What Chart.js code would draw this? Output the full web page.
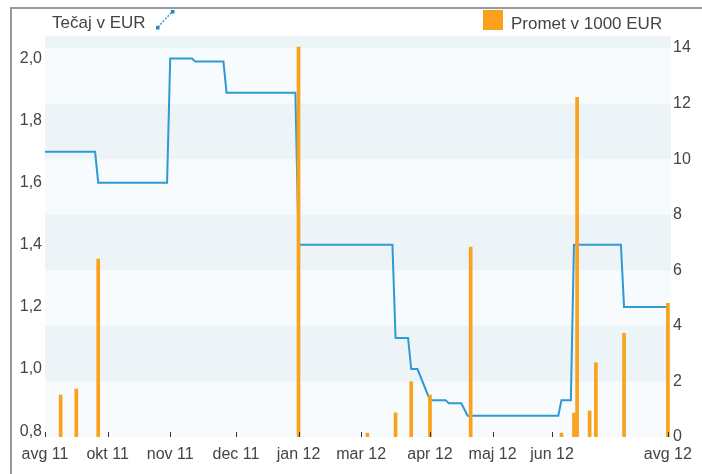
<!DOCTYPE html>
<html><head><meta charset="utf-8">
<script src="https://cdn.jsdelivr.net/npm/chart.js@4.4.1/dist/chart.umd.min.js"></script>
<style>
html,body{margin:0;padding:0;background:#fff;width:702px;height:474px;overflow:hidden;position:relative;font-family:"Liberation Sans",Arial,sans-serif;}
#frame{position:absolute;left:10px;top:7px;width:700px;height:480px;border-left:2px solid #9a9a9a;border-top:2px solid #9a9a9a;}
canvas{position:absolute;left:0;top:0;}
.lg{position:absolute;font-size:17px;line-height:17px;color:#444;white-space:nowrap;}
</style></head><body>
<div id="frame"></div>
<canvas id="c" width="702" height="474"></canvas>
<div class="lg" style="left:52px;top:14px;">Tečaj v EUR</div>
<svg style="position:absolute;left:150px;top:6px" width="30" height="28">
  <line x1="8" y1="21" x2="22" y2="6" stroke="#2e9ad3" stroke-width="1.5" stroke-dasharray="2 1.5"/>
  <rect x="6" y="20" width="3.5" height="3.5" fill="#1f86c4"/>
  <rect x="21" y="4" width="3.5" height="3.5" fill="#1f86c4"/>
</svg>
<div style="position:absolute;left:483px;top:10px;width:20px;height:20px;background:#faa21c"></div>
<div class="lg" style="left:511px;top:15px;">Promet v 1000 EUR</div>
<script>
// x positions are observation indices (avg 11 = 0)
const xTickPos    = [0, 20, 40, 61, 81, 101, 123, 143, 162, 199];
const xTickLabels = ['avg 11','okt 11','nov 11','dec 11','jan 12','mar 12','apr 12','maj 12','jun 12','avg 12'];
const leftTicks   = [0.8, 1.0, 1.2, 1.4, 1.6, 1.8, 2.0];
const rightTicks  = [0, 2, 4, 6, 8, 10, 12, 14];

// Tečaj v EUR (line)
const rateX   = [0, 16, 17, 39, 40, 47, 48, 57, 58, 80, 81, 111, 112, 116, 117, 119, 123, 128, 129, 133, 135, 164, 165, 168, 169, 184, 185, 199];
const rateVal = [1.70, 1.70, 1.60, 1.60, 2.00, 2.00, 1.99, 1.99, 1.89, 1.89, 1.40, 1.40, 1.10, 1.10, 1.00, 1.00, 0.90, 0.90, 0.89, 0.89, 0.85, 0.85, 0.90, 0.90, 1.40, 1.40, 1.20, 1.20];

// Promet v 1000 EUR (bars)
const volX   = [5, 10, 17, 81, 103, 112, 117, 123, 136, 165, 169, 170, 174, 176, 185, 199];
const volVal = [1.51, 1.73, 6.4, 14.03, 0.14, 0.87, 1.99, 1.51, 6.83, 0.14, 0.86, 12.22, 0.94, 2.67, 3.73, 4.81];

Chart.defaults.font.family = '"Liberation Sans", Arial, sans-serif';
Chart.defaults.font.size = 16;
Chart.defaults.color = '#444';

const bandPlugin = {
  id: 'bands',
  beforeDatasetsDraw(chart) {
    const {ctx, chartArea: a, scales} = chart;
    const y2 = scales.y2;
    ctx.save();
    ctx.fillStyle = '#f7fbfd';
    ctx.fillRect(a.left, a.top, a.right - a.left, a.bottom - a.top);
    ctx.fillStyle = '#edf4f8';
    const b = rightTicks.concat([y2.max]);
    for (let i = 1; i + 1 < b.length; i += 2) {
      const yt = y2.getPixelForValue(b[i + 1]);
      const yb = y2.getPixelForValue(b[i]);
      ctx.fillRect(a.left, yt, a.right - a.left, yb - yt);
    }
    ctx.restore();
  }
};
const tickPlugin = {
  id: 'xticks',
  afterDatasetsDraw(chart) {
    const {ctx, chartArea: a, scales} = chart;
    ctx.save();
    ctx.strokeStyle = '#333';
    ctx.lineWidth = 1;
    xTickPos.forEach(v => {
      const x = Math.round(scales.x.getPixelForValue(v)) + 0.5;
      ctx.beginPath();
      ctx.moveTo(x, a.bottom - 5);
      ctx.lineTo(x, a.bottom);
      ctx.stroke();
    });
    ctx.restore();
  }
};

new Chart(document.getElementById('c'), {
  type: 'bar',
  data: {
    datasets: [
      {type: 'line', label: 'Tečaj v EUR', data: rateX.map((x, i) => ({x, y: rateVal[i]})),
       yAxisID: 'y', borderColor: '#2e9ad3', borderWidth: 2, pointRadius: 0, tension: 0, fill: false, order: 2},
      {type: 'bar', label: 'Promet v 1000 EUR', data: volX.map((x, i) => ({x, y: volVal[i]})),
       yAxisID: 'y2', backgroundColor: '#faa21c', barThickness: 3, order: 1}
    ]
  },
  options: {
    responsive: false, animation: false, devicePixelRatio: 1,
    layout: {padding: {top: 36, left: 0, right: 0, bottom: 0}},
    plugins: {legend: {display: false}, tooltip: {enabled: false}},
    scales: {
      x: {type: 'linear', min: 0, max: 200, offset: false,
          grid: {display: false, drawTicks: false}, border: {display: false},
          afterBuildTicks: s => { s.ticks = xTickPos.map(v => ({value: v})); },
          ticks: {autoSkip: false, maxRotation: 0, minRotation: 0, padding: 8,
                  callback: v => xTickLabels[xTickPos.indexOf(v)]},
          afterFit: s => { s.height = 37; }},
      y: {type: 'linear', position: 'left', min: 0.7813, max: 2.0724,
          grid: {display: false, drawTicks: false}, border: {display: false},
          afterBuildTicks: s => { s.ticks = leftTicks.map(v => ({value: v})); },
          ticks: {padding: 3, callback: v => v.toFixed(1).replace('.', ',')},
          afterFit: s => { s.width = 45; }},
      y2: {type: 'linear', position: 'right', min: 0, max: 14.43,
          grid: {display: false, drawTicks: false}, border: {display: false},
          afterBuildTicks: s => { s.ticks = rightTicks.map(v => ({value: v})); },
          ticks: {padding: 2, callback: v => String(v)},
          afterFit: s => { s.width = 31; }}
    }
  },
  plugins: [bandPlugin, tickPlugin]
});
</script>
</body></html>
